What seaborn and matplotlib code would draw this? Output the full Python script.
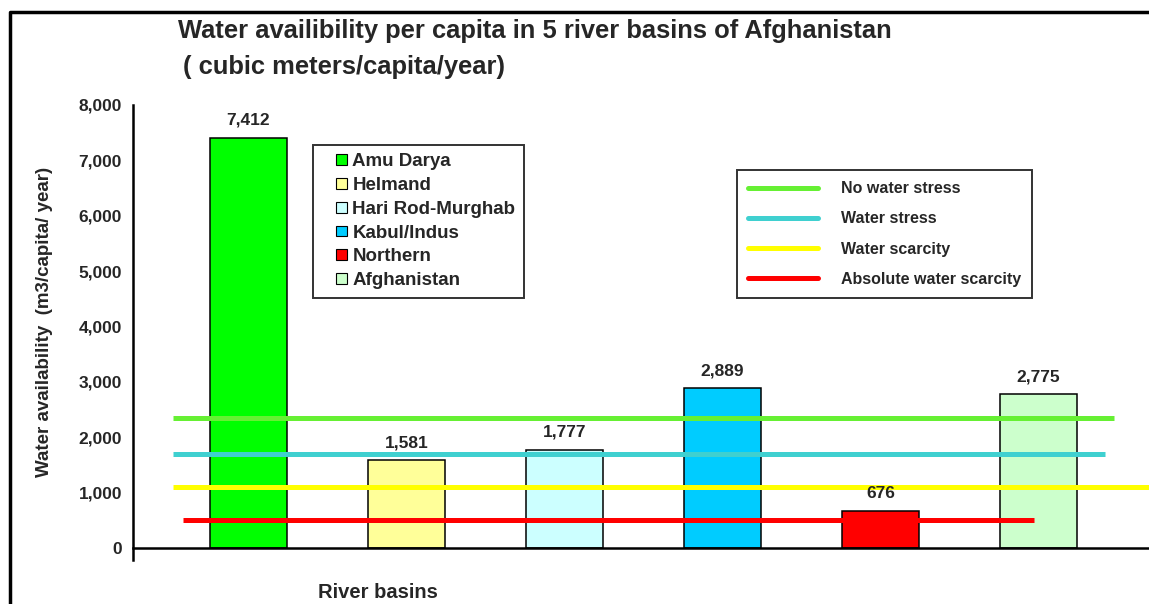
import matplotlib
matplotlib.use('Agg')
from matplotlib import pyplot as plt
from matplotlib.patches import Patch, Rectangle
from matplotlib.legend_handler import HandlerPatch
from matplotlib.lines import Line2D
import seaborn as sns
import pandas as pd

# data
basins = ['Amu Darya', 'Helmand', 'Hari Rod-Murghab', 'Kabul/Indus', 'Northern', 'Afghanistan']
water = [7412, 1581, 1777, 2889, 676, 2775]
bar_colors = ['#00FF00', '#FFFF99', '#CCFFFF', '#00CCFF', '#FF0000', '#CCFFCC']

levels = ['No water stress', 'Water stress', 'Water scarcity', 'Absolute water scarcity']
level_values = [2350, 1700, 1100, 500]
level_colors = ['#66F033', '#3FD0D0', '#FFFF00', '#FF0000']
level_spans = [(0.039, 0.966), (0.039, 0.957), (0.039, 1.0), (0.049, 0.887)]

sns.set_style('white')
plt.rcParams['font.family'] = ['Liberation Sans', 'DejaVu Sans']


def small_square(legend, orig_handle, xdescent, ydescent, width, height, fontsize):
	# legend marker as a small square at the right end of the handle box
	s = height
	return Rectangle((-xdescent + width - s, -ydescent), s, s)


W, H = 1149, 604
fig = plt.figure(figsize=(W / 100, H / 100), dpi=100)
ax = fig.add_axes([133 / W, (H - 560) / H, 1 - 133 / W, (560 - 105) / H])

data = pd.DataFrame({'basin': basins, 'water': water})
sns.barplot(data=data, x='basin', y='water', hue='basin', palette=bar_colors, saturation=1,
            width=0.487, edgecolor='black', linewidth=1.1, legend=False, ax=ax, zorder=2)

ax.set_xlim(-0.731, 5.70)
ax.set_ylim(-217, 8000)
ax.set_yticks(range(0, 8001, 1000))
ax.set_yticklabels([f'{v:,}' for v in range(0, 8001, 1000)], fontweight='bold', fontsize=12.5)
ax.set_xticks([])
ax.tick_params(axis='y', direction='inout', length=8, width=1.6, pad=4)
ax.spines['top'].set_visible(False)
ax.spines['right'].set_visible(False)
ax.spines['bottom'].set_position(('data', 0))
for s in ['left', 'bottom']:
	ax.spines[s].set_linewidth(1.8)
	ax.spines[s].set_color('black')
ax.set_xlabel('')
ax.set_ylabel('')

for i, v in enumerate(water):
	ax.annotate(f'{v:,}', (i, v), xytext=(0, 7), textcoords='offset points',
	            ha='center', va='bottom', fontsize=12.5, fontweight='bold', zorder=5)

for val, col, (x0, x1) in zip(level_values, level_colors, level_spans):
	ax.axhline(val, xmin=x0, xmax=x1, color=col, lw=3.6, zorder=3, solid_capstyle='butt')

# legends
h1 = [Patch(facecolor=c, edgecolor='black', linewidth=0.8) for c in bar_colors]
leg1 = ax.legend(h1, basins, loc='upper left', bbox_to_anchor=(313 / W, (H - 145) / H),
                 bbox_transform=fig.transFigure, frameon=True, fancybox=False,
                 prop={'weight': 'bold', 'size': 13.5}, handlelength=1.35, handleheight=0.5,
                 handler_map={Patch: HandlerPatch(patch_func=small_square)},
                 handletextpad=0.3, labelspacing=0.36, borderpad=0.45, borderaxespad=0)
leg1.get_frame().set_edgecolor('black')
leg1.get_frame().set_linewidth(1.4)
ax.add_artist(leg1)

h2 = [Line2D([0], [0], color=c, lw=3.6) for c in level_colors]
leg2 = ax.legend(h2, levels, loc='upper left', bbox_to_anchor=(737 / W, (H - 170) / H),
                 bbox_transform=fig.transFigure, frameon=True, fancybox=False,
                 prop={'weight': 'bold', 'size': 11.5}, handlelength=4.4, handletextpad=1.4,
                 labelspacing=0.95, borderpad=0.7, borderaxespad=0)
leg2.get_frame().set_edgecolor('black')
leg2.get_frame().set_linewidth(1.4)

# titles and labels
fig.text(178 / W, 1 - 31 / H, 'Water availibility per capita in 5 river basins of Afghanistan',
         fontsize=18.4, fontweight='bold', ha='left', va='center')
fig.text(183 / W, 1 - 67 / H, '( cubic meters/capita/year)',
         fontsize=18.4, fontweight='bold', ha='left', va='center')
fig.text(45 / W, 1 - 322 / H, 'Water availability  (m3/capita/ year)', rotation=90,
         fontsize=13.5, fontweight='bold', ha='center', va='center')
fig.text(378 / W, 1 - 592 / H, 'River basins', fontsize=14.5, fontweight='bold',
         ha='center', va='center')

# frame lines of the original sheet
fig.add_artist(Line2D([10 / W, 10 / W, 1], [0, 1 - 12 / H, 1 - 12 / H],
                      transform=fig.transFigure, color='black', lw=2.5))

fig.savefig('out.png', dpi=100)
